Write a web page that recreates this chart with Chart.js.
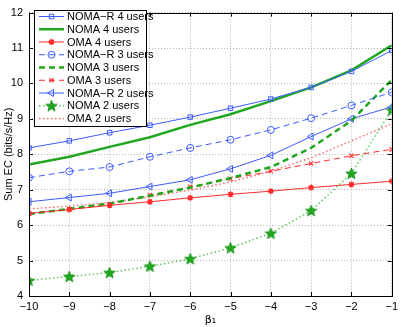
<!DOCTYPE html>
<html>
<head>
<meta charset="utf-8">
<script src="https://cdn.jsdelivr.net/npm/chart.js@4"></script>
<style>
  html, body { margin: 0; padding: 0; background: #fff; }
  #wrap { width: 402px; height: 327px; }
</style>
</head>
<body>
<div id="wrap"><canvas id="sumEc" width="402" height="327"></canvas></div>
<script>
// beta_1 values on the x axis
const beta = [-10, -9, -8, -7, -6, -5, -4, -3, -2, -1];

// series
const nomaR4 = [8.18, 8.38, 8.61, 8.82, 9.05, 9.30, 9.56, 9.89, 10.34, 10.93];
const noma4  = [7.71, 7.93, 8.21, 8.48, 8.83, 9.13, 9.50, 9.89, 10.37, 11.08];
const oma4   = [6.33, 6.44, 6.56, 6.66, 6.77, 6.87, 6.96, 7.06, 7.15, 7.24];
const nomaR3 = [7.34, 7.52, 7.64, 7.93, 8.18, 8.41, 8.69, 9.02, 9.38, 9.75];
const noma3  = [6.31, 6.46, 6.61, 6.83, 7.06, 7.33, 7.64, 8.18, 8.95, 10.10];
const oma3   = [6.33, 6.45, 6.59, 6.85, 7.08, 7.31, 7.52, 7.74, 7.96, 8.14];
const nomaR2 = [6.66, 6.78, 6.90, 7.09, 7.28, 7.59, 7.97, 8.50, 9.00, 9.34];
const noma2  = [4.44, 4.55, 4.66, 4.84, 5.05, 5.36, 5.77, 6.41, 7.46, 9.25];
const oma2   = [6.46, 6.54, 6.64, 6.80, 6.99, 7.22, 7.52, 7.90, 8.38, 8.86];

const yTicks = [4, 5, 6, 7, 8, 9, 10, 11, 12];

const BLUE = '#3b5bff';
const GREEN = '#1fa81f';
const RED = '#ff2a2a';

// filled pentagram for the "NOMA 2 users" markers
function pentagram(size, fill) {
    let c = document.createElement('canvas');
    c.width = size; c.height = size;
    let g = c.getContext('2d');
    let cx = size / 2, cy = size / 2 + 0.5, R = size / 2 - 0.5, r = R * 0.42;
    g.beginPath();
    for (let i = 0; i < 10; i++) {
        let rad = i % 2 === 0 ? R : r;
        let a = -Math.PI / 2 + i * Math.PI / 5;
        let px = cx + rad * Math.cos(a), py = cy + rad * Math.sin(a);
        if (i === 0) g.moveTo(px, py); else g.lineTo(px, py);
    }
    g.closePath();
    g.fillStyle = fill;
    g.fill();
    g.strokeStyle = '#128a12';
    g.lineWidth = 0.8;
    g.stroke();
    return c;
}
const star = pentagram(13, GREEN);

function pts(arr) {
    return arr.map((v, i) => ({ x: beta[i], y: v }));
}

// legend + frame drawn inside the plot, matlab style
const boxPlugin = {
    id: 'boxLegend',
    afterDraw(chart) {
        const ctx = chart.ctx;
        const a = chart.chartArea;
        ctx.save();
        // inward ticks
        ctx.strokeStyle = '#000';
        ctx.lineWidth = 1;
        const xs = chart.scales.x, ys = chart.scales.y;
        ctx.beginPath();
        beta.forEach(b => {
            let px = Math.round(xs.getPixelForValue(b)) + 0.5;
            ctx.moveTo(px, a.bottom); ctx.lineTo(px, a.bottom - 4);
            ctx.moveTo(px, a.top); ctx.lineTo(px, a.top + 4);
        });
        yTicks.forEach(t => {
            let py = Math.round(ys.getPixelForValue(t)) + 0.5;
            ctx.moveTo(a.left, py); ctx.lineTo(a.left + 4, py);
            ctx.moveTo(a.right, py); ctx.lineTo(a.right - 4, py);
        });
        ctx.stroke();
        ctx.strokeRect(Math.round(a.left) + 0.5, Math.round(a.top) + 0.5,
            Math.round(a.right - a.left), Math.round(a.bottom - a.top));

        // legend box
        const lx = 34.5, ly = 10.5, lw = 112, lh = 116;
        ctx.fillStyle = '#fff';
        ctx.fillRect(lx, ly, lw, lh);
        ctx.strokeRect(lx, ly, lw, lh);
        ctx.font = '11px "Liberation Sans", Arial, sans-serif';
        ctx.textBaseline = 'middle';
        chart.data.datasets.forEach((ds, i) => {
            let y = 16.5 + i * 12.75;
            ctx.save();
            ctx.strokeStyle = ds.borderColor;
            ctx.lineWidth = ds.borderWidth;
            ctx.setLineDash(ds.borderDash || []);
            ctx.beginPath();
            ctx.moveTo(39, y); ctx.lineTo(64, y);
            ctx.stroke();
            ctx.restore();
            if (ds.pointRadius > 0) {
                ctx.save();
                ctx.strokeStyle = ds.pointBorderColor || ds.borderColor;
                ctx.fillStyle = ds.pointBackgroundColor || 'rgba(0,0,0,0)';
                ctx.lineWidth = ds.pointBorderWidth || 1;
                Chart.helpers.drawPoint(ctx, {
                    pointStyle: ds.pointStyle,
                    rotation: ds.pointRotation || 0,
                    radius: ds.pointRadius,
                    borderWidth: ds.pointBorderWidth || 1
                }, 51.5, y);
                ctx.restore();
            }
            ctx.fillStyle = '#000';
            ctx.fillText(ds.label, 67, y + 0.5);
        });
        ctx.restore();
    }
};

let ctx = document.getElementById('sumEc');

new Chart(ctx, {
    type: 'line',
    data: {
        datasets: [
            { label: 'NOMA\u2212R 4 users', data: pts(nomaR4), borderColor: BLUE, borderWidth: 1,
              pointStyle: 'rect', pointRadius: 3.2, pointBackgroundColor: 'rgba(0,0,0,0)', pointBorderColor: BLUE },
            { label: 'NOMA 4 users', data: pts(noma4), borderColor: GREEN, borderWidth: 2.5,
              pointRadius: 0 },
            { label: 'OMA 4 users', data: pts(oma4), borderColor: RED, borderWidth: 1,
              pointStyle: 'star', pointRadius: 3, pointBorderColor: RED, pointBorderWidth: 1.5 },
            { label: 'NOMA\u2212R 3 users', data: pts(nomaR3), borderColor: BLUE, borderWidth: 1, borderDash: [6, 4],
              pointStyle: 'circle', pointRadius: 3.5, pointBackgroundColor: 'rgba(0,0,0,0)', pointBorderColor: BLUE },
            { label: 'NOMA 3 users', data: pts(noma3), borderColor: GREEN, borderWidth: 2.5, borderDash: [6, 4],
              pointRadius: 0 },
            { label: 'OMA 3 users', data: pts(oma3), borderColor: RED, borderWidth: 1, borderDash: [6, 4],
              pointStyle: 'crossRot', pointRadius: 3, pointBorderColor: RED, pointBorderWidth: 1.2 },
            { label: 'NOMA\u2212R 2 users', data: pts(nomaR2), borderColor: BLUE, borderWidth: 1,
              pointStyle: 'triangle', pointRotation: -90, pointRadius: 4, pointBackgroundColor: 'rgba(0,0,0,0)', pointBorderColor: BLUE },
            { label: 'NOMA 2 users', data: pts(noma2), borderColor: '#5cc85c', borderWidth: 1.5, borderDash: [1.5, 2.5],
              pointStyle: star, pointRadius: 6 },
            { label: 'OMA 2 users', data: pts(oma2), borderColor: '#ff6b6b', borderWidth: 1.5, borderDash: [1.5, 2.5],
              pointRadius: 0 }
        ]
    },
    options: {
        animation: false,
        responsive: false,
        devicePixelRatio: 1,
        layout: { padding: { top: 10, right: 9, left: 2, bottom: 0 } },
        plugins: {
            legend: { display: false },
            tooltip: { enabled: false }
        },
        elements: { line: { tension: 0, fill: false } },
        scales: {
            x: {
                type: 'linear',
                min: -10,
                max: -1,
                ticks: {
                    stepSize: 1,
                    color: '#000',
                    padding: 4,
                    font: { family: '"Liberation Sans", Arial, sans-serif', size: 11 },
                    callback: v => String(v).replace('-', '\u2212')
                },
                grid: { color: '#b4b4b4', lineWidth: 1, drawTicks: false },
                border: { display: false, dash: [1, 2] },
                title: {
                    display: true,
                    text: '\u03b2\u2081',
                    color: '#000',
                    padding: { top: 0, bottom: 0 },
                    font: { family: '"DejaVu Sans", sans-serif', size: 11 }
                },
                afterFit: s => { s.height = 31; }
            },
            y: {
                min: 4,
                max: 12,
                ticks: {
                    stepSize: 1,
                    color: '#000',
                    padding: 6,
                    font: { family: '"Liberation Sans", Arial, sans-serif', size: 11 }
                },
                grid: { color: '#b4b4b4', lineWidth: 1, drawTicks: false },
                border: { display: false, dash: [1, 2] },
                title: {
                    display: true,
                    text: 'Sum EC (bits/s/Hz)',
                    color: '#000',
                    padding: { top: 0, bottom: 0 },
                    font: { family: '"Liberation Sans", Arial, sans-serif', size: 11 }
                },
                afterFit: s => { s.width = 27; }
            }
        }
    },
    plugins: [boxPlugin]
});
</script>
</body>
</html>
